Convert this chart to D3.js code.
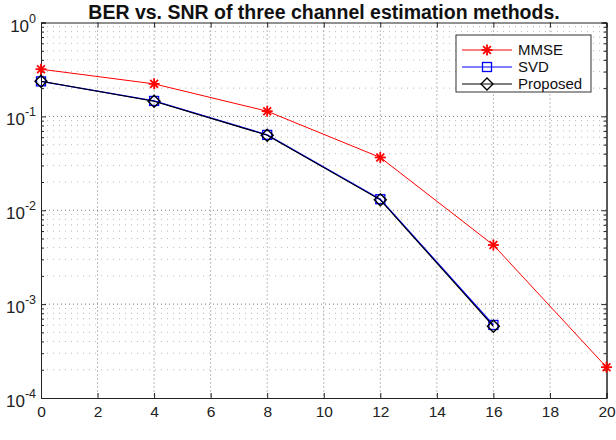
<!DOCTYPE html>
<html>
<head>
<meta charset="utf-8">
<script src="https://cdn.jsdelivr.net/npm/d3@7"></script>
<style>
  body { margin: 0; background: #fff; }
  svg text { font-family: "Liberation Sans", Arial, sans-serif; }
</style>
</head>
<body>
<div id="chart"></div>
<script>
// data
const snr = [0, 4, 8, 12, 16, 20];
const berMMSE = [0.318, 0.222, 0.1135, 0.0365, 0.00426, 0.000213];
const berSVD = [0.236, 0.146, 0.0635, 0.0131, 0.000600];
const berProposed = [0.237, 0.145, 0.063, 0.0129, 0.000580];
const xTicks = [0, 2, 4, 6, 8, 10, 12, 14, 16, 18, 20];
const yDecades = [0, -1, -2, -3, -4];
const title = 'BER vs. SNR of three channel estimation methods.';

const width = 616, height = 440;
const margin = { top: 22.5, right: 9.5, bottom: 42, left: 41 };

const svg = d3.select('#chart').append('svg')
  .attr('width', width)
  .attr('height', height);

const x = d3.scaleLinear().domain([0, 20]).range([margin.left, width - margin.right]);
const y = d3.scaleLog().domain([1e-4, 1]).range([height - margin.bottom, margin.top]);

const plotL = x(0), plotR = x(20), plotT = y(1), plotB = y(1e-4);

// minor log values for grid
let minorVals = [];
yDecades.slice(1).forEach(e => {
  for (let k = 2; k <= 9; k++) minorVals.push(k * Math.pow(10, e));
});

const grid = svg.append('g');
grid.selectAll('.xg').data(xTicks.slice(1, -1)).enter().append('line')
  .attr('x1', d => x(d)).attr('x2', d => x(d))
  .attr('y1', plotT).attr('y2', plotB)
  .attr('stroke', '#555').attr('stroke-width', 0.8)
  .attr('stroke-dasharray', '1,3');
grid.selectAll('.yg').data(yDecades.slice(1, -1)).enter().append('line')
  .attr('x1', plotL).attr('x2', plotR)
  .attr('y1', d => y(Math.pow(10, d))).attr('y2', d => y(Math.pow(10, d)))
  .attr('stroke', '#555').attr('stroke-width', 0.8)
  .attr('stroke-dasharray', '1,3');
grid.selectAll('.ym').data(minorVals).enter().append('line')
  .attr('x1', plotL).attr('x2', plotR)
  .attr('y1', d => y(d)).attr('y2', d => y(d))
  .attr('stroke', '#999').attr('stroke-width', 0.7)
  .attr('stroke-dasharray', '1,5');

// axes with inward ticks
const xAxis = d3.axisBottom(x).tickValues(xTicks).tickSize(-5).tickPadding(8).tickFormat(d3.format('d'));
const gx = svg.append('g').attr('transform', `translate(0,${plotB})`).call(xAxis);
gx.attr('font-size', 15.5).attr('font-family', null);
gx.selectAll('text').attr('fill', '#222');
svg.append('g').attr('transform', `translate(0,${plotT})`)
  .call(d3.axisTop(x).tickValues(xTicks).tickSize(-5).tickFormat(''));

const yAxis = d3.axisLeft(y).tickValues(yDecades.map(e => Math.pow(10, e))).tickSize(-5).tickFormat('');
svg.append('g').attr('transform', `translate(${plotL},0)`).call(yAxis);
svg.append('g').attr('transform', `translate(${plotL},0)`)
  .call(d3.axisLeft(y).tickValues(minorVals).tickSize(-3).tickFormat(''));
svg.append('g').attr('transform', `translate(${plotR},0)`)
  .call(d3.axisRight(y).tickValues(yDecades.map(e => Math.pow(10, e))).tickSize(-5).tickFormat(''));
svg.append('g').attr('transform', `translate(${plotR},0)`)
  .call(d3.axisRight(y).tickValues(minorVals).tickSize(-3).tickFormat(''));
svg.selectAll('.domain').attr('stroke', '#222');
svg.selectAll('.tick line').attr('stroke', '#222');

// y labels 10^e
const yl = svg.append('g');
yDecades.forEach(e => {
  const t = yl.append('text')
    .attr('x', 36).attr('y', y(Math.pow(10, e)) + 9)
    .attr('text-anchor', 'end').style('font-size', '17px').attr('fill', '#222');
  t.append('tspan').text('10');
  t.append('tspan').attr('dy', -9).style('font-size', '12.5px').text(String(e));
});

// title
svg.append('text').attr('x', 324).attr('y', 19)
  .attr('text-anchor', 'middle').attr('font-size', 19.5).attr('font-weight', 'bold')
  .attr('fill', '#111').text(title);

const line = d3.line().x(d => x(d[0])).y(d => y(d[1]));

function star(g, cx, cy, color) {
  const r = 5.5;
  [0, 45, 90, 135].forEach(a => {
    const rad = a * Math.PI / 180;
    g.append('line')
      .attr('x1', cx - r * Math.cos(rad)).attr('y1', cy - r * Math.sin(rad))
      .attr('x2', cx + r * Math.cos(rad)).attr('y2', cy + r * Math.sin(rad))
      .attr('stroke', color).attr('stroke-width', 1.8);
  });
}
function square(g, cx, cy, color) {
  g.append('rect').attr('x', cx - 4.5).attr('y', cy - 4.5).attr('width', 9).attr('height', 9)
    .attr('fill', 'none').attr('stroke', color).attr('stroke-width', 1.3);
}
function diamond(g, cx, cy, color) {
  const r = 6;
  g.append('path').attr('d', `M${cx},${cy - r}L${cx + r},${cy}L${cx},${cy + r}L${cx - r},${cy}Z`)
    .attr('fill', 'none').attr('stroke', color).attr('stroke-width', 1.4);
}

const series = [
  { name: 'MMSE', vals: berMMSE, color: '#ff0000', marker: star, w: 1 },
  { name: 'SVD', vals: berSVD, color: '#0000ff', marker: square, w: 1.3 },
  { name: 'Proposed', vals: berProposed, color: '#000000', marker: diamond, w: 1.1 }
];

const plot = svg.append('g');
series.forEach(s => {
  const pts = s.vals.map((v, i) => [snr[i], v]);
  plot.append('path').datum(pts).attr('d', line)
    .attr('fill', 'none').attr('stroke', s.color).attr('stroke-width', s.w);
  pts.forEach(p => s.marker(plot, x(p[0]), y(p[1]), s.color));
});

// legend
const lg = svg.append('g');
lg.append('rect').attr('x', 456).attr('y', 35).attr('width', 135).attr('height', 57)
  .attr('fill', '#fff').attr('stroke', '#333').attr('stroke-width', 1);
series.forEach((s, i) => {
  const ly = 50 + i * 17;
  lg.append('line').attr('x1', 462).attr('x2', 512).attr('y1', ly).attr('y2', ly)
    .attr('stroke', s.color).attr('stroke-width', 1);
  s.marker(lg, 487, ly, s.color);
  lg.append('text').attr('x', 518).attr('y', ly + 5).style('font-size', '15px')
    .attr('fill', '#111').text(s.name);
});
</script>
</body>
</html>
